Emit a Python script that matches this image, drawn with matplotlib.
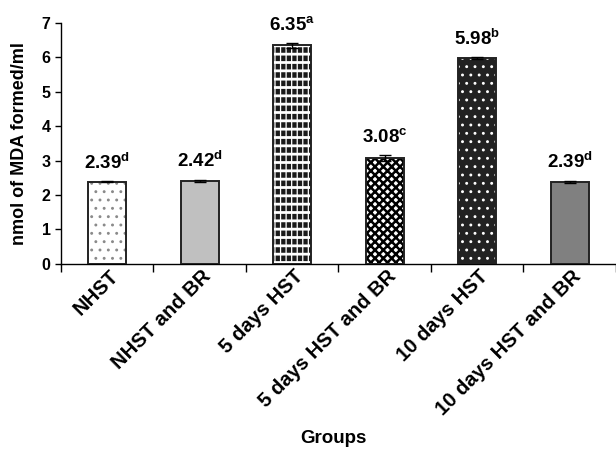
import numpy as np
import matplotlib.pyplot as plt
from matplotlib.transforms import ScaledTranslation

plt.rcParams['font.family'] = 'Liberation Sans'
plt.rcParams['font.weight'] = 'bold'
plt.rcParams['mathtext.fontset'] = 'custom'
plt.rcParams['mathtext.rm'] = 'Liberation Sans:bold'
plt.rcParams['mathtext.bf'] = 'Liberation Sans:bold'

groups = ['NHST', 'NHST and BR', '5 days HST', '5 days HST and BR',
          '10 days HST', '10 days HST and BR']
mda = [2.39, 2.42, 6.35, 3.08, 5.98, 2.39]
sem = [0.02, 0.03, 0.07, 0.08, 0.02, 0.03]
letters = ['d', 'd', 'a', 'c', 'b', 'd']

# per group: fill colour, then hatch layers as (colour, pattern, linewidth)
styles = [
    ('white',   [('#8a8a8a', '..', 0.9)]),
    ('#c0c0c0', []),
    ('#1a1a1a', [('white', '--', 2.0), ('white', '|||', 0.9)]),
    ('white',   [('black', 'xxxx', 1.8)]),
    ('#222222', [('white', '..', 0.9)]),
    ('#808080', []),
]

fig = plt.figure(figsize=(6.16, 4.55), dpi=100)
ax = fig.add_axes([0.099, 0.42, 0.901, 0.5295])

x = np.arange(len(groups))
width = 0.41


def hatched_bar(xi, val, colour, pattern, lw):
    with plt.rc_context({'hatch.linewidth': lw}):
        bars = ax.bar(xi, val, width, fill=False, edgecolor=colour, linewidth=0,
                      hatch=pattern, zorder=2.5)
    for p in bars:
        if hasattr(p, 'set_hatch_linewidth'):
            p.set_hatch_linewidth(lw)


for xi, val, (fc, layers) in zip(x, mda, styles):
    ax.bar(xi, val, width, color=fc, linewidth=0, zorder=2)
    for colour, pattern, lw in layers:
        hatched_bar(xi, val, colour, pattern, lw)

ax.bar(x, mda, width, fill=False, edgecolor='#222222', linewidth=1.4, zorder=3)
ax.errorbar(x, mda, yerr=sem, fmt='none', ecolor='black', elinewidth=1,
            capsize=4, capthick=1, zorder=4)

for xi, val, err, let in zip(x, mda, sem, letters):
    ax.annotate(f'{val:.2f}' + r'$^{\mathrm{' + let + '}}$', (xi, val + err),
                xytext=(0, 6), textcoords='offset points', ha='center',
                va='bottom', fontsize=13.5, fontweight='bold')

ax.set_xlim(-0.5, len(groups) - 0.5)
ax.set_ylim(0, 7)
ax.set_yticks(range(8))
ax.tick_params(axis='y', labelsize=11.5, length=4, width=1, direction='out')

ax.set_xticks(x)
ax.set_xticklabels(groups, rotation=45, ha='right', va='center',
                   rotation_mode='anchor', fontsize=14.5, fontweight='bold')
ax.tick_params(axis='x', which='major', length=0, pad=7)
# nudge the slanted labels a little to the right
shift = ScaledTranslation(6 / 72, 0, fig.dpi_scale_trans)
for lab in ax.get_xticklabels():
    lab.set_transform(lab.get_transform() + shift)
ax.set_xticks(np.arange(-0.5, len(groups) + 0.5, 1), minor=True)
ax.tick_params(axis='x', which='minor', length=6, width=1, direction='out')

for side in ('top', 'right'):
    ax.spines[side].set_visible(False)
ax.spines['left'].set_linewidth(1)
ax.spines['bottom'].set_linewidth(1)

ax.set_ylabel('nmol of MDA formed/ml', fontsize=13, fontweight='bold', labelpad=10)
fig.text(0.542, 0.017, 'Groups', ha='center', va='bottom', fontsize=13.5,
         fontweight='bold')

fig.savefig('out.png', dpi=100)
